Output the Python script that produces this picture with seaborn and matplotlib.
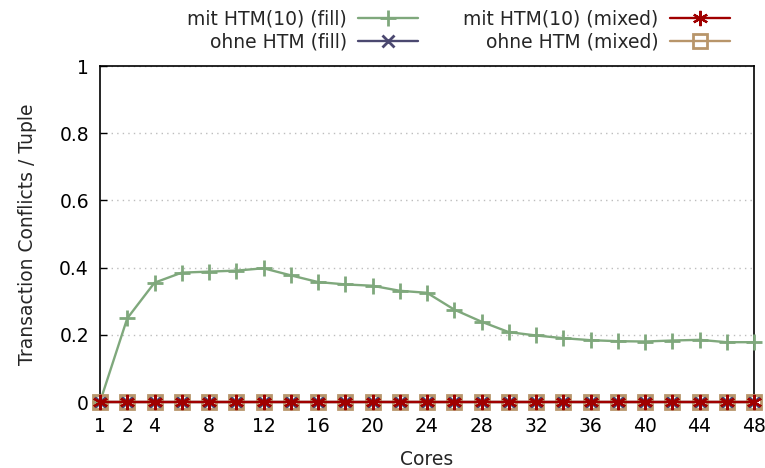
import matplotlib
matplotlib.use("Agg")
import matplotlib.pyplot as plt
import pandas as pd
import seaborn as sns

# Daten
cores = [1, 2] + list(range(4, 49, 2))
mit_htm_fill = [0.0, 0.249, 0.355, 0.385, 0.388, 0.391, 0.398, 0.377, 0.357, 0.350,
                0.346, 0.331, 0.325, 0.275, 0.239, 0.208, 0.198, 0.190, 0.184, 0.181,
                0.180, 0.183, 0.185, 0.178, 0.178]
ohne_htm_fill = [0.0] * len(cores)
mit_htm_mixed = [0.0] * len(cores)
ohne_htm_mixed = [0.0] * len(cores)
xtick_labels = [1, 2, 4, 8, 12, 16, 20, 24, 28, 32, 36, 40, 44, 48]
yticks = [0, 0.2, 0.4, 0.6, 0.8, 1]

sns.set_style("white")
plt.rcParams['font.family'] = ['DejaVu Sans']
fs = 13.5

fig = plt.figure(figsize=(7.65, 4.68), dpi=100)
ax = fig.add_axes([100 / 765, 1 - 402 / 468, 654 / 765, 336 / 468])

# x-Achse: Messpunkte gleichabständig (Index), beschriftet mit Kernzahl
pos = list(range(len(cores)))
series = [
    ("mit HTM(10) (fill)", mit_htm_fill, "#7fa87c", "+", 11, 2, 3),
    ("ohne HTM (fill)", ohne_htm_fill, "#4b4870", "x", 9, 2, 3),
    ("ohne HTM (mixed)", ohne_htm_mixed, "#b8956a", "s", 10.5, 2, 4),
    ("mit HTM(10) (mixed)", mit_htm_mixed, "#a00000", (6, 2, 0), 11, 1.6, 5),
]
for label, vals, color, marker, size, mew, z in series:
    df = pd.DataFrame({"pos": pos, "v": vals})
    sns.lineplot(data=df, x="pos", y="v", ax=ax, color=color, marker=marker,
                 markersize=size, markeredgewidth=mew, markeredgecolor=color,
                 markerfacecolor="none" if marker == "s" else color,
                 linewidth=1.7, label=label, clip_on=False, zorder=z)

ax.set_xlim(0, len(cores) - 1)
ax.set_ylim(0, 1)
ax.set_xticks([cores.index(c) for c in xtick_labels])
ax.set_xticklabels([str(t) for t in xtick_labels])
ax.set_yticks(yticks)
ax.set_yticklabels(["0", "0.2", "0.4", "0.6", "0.8", "1"])
ax.tick_params(direction="in", length=5, width=1, colors="black", labelsize=fs,
               left=True, bottom=True)
ax.tick_params(axis="x", pad=11)
ax.tick_params(axis="y", pad=8)
ax.yaxis.grid(True, linestyle=(0, (1, 3)), color="#bdbdbd", linewidth=1)
ax.set_axisbelow(True)
for s in ax.spines.values():
    s.set_color("black")
    s.set_linewidth(1.2)
ax.set_xlabel("Cores", fontsize=fs, labelpad=10)
ax.set_ylabel("Transaction Conflicts / Tuple", fontsize=fs, labelpad=16)

h, l = ax.get_legend_handles_labels()
ax.get_legend().remove()
order = ["mit HTM(10) (fill)", "ohne HTM (fill)", "mit HTM(10) (mixed)", "ohne HTM (mixed)"]
hd = dict(zip(l, h))
fig.legend([hd[o] for o in order], order, loc="upper right",
           bbox_to_anchor=(739 / 765, 1.0), ncol=2, frameon=False,
           markerfirst=False, handlelength=3.2, handletextpad=0.6,
           columnspacing=2.4, labelspacing=0.2, borderpad=0.0, fontsize=fs)

fig.savefig("out.png", dpi=100)
